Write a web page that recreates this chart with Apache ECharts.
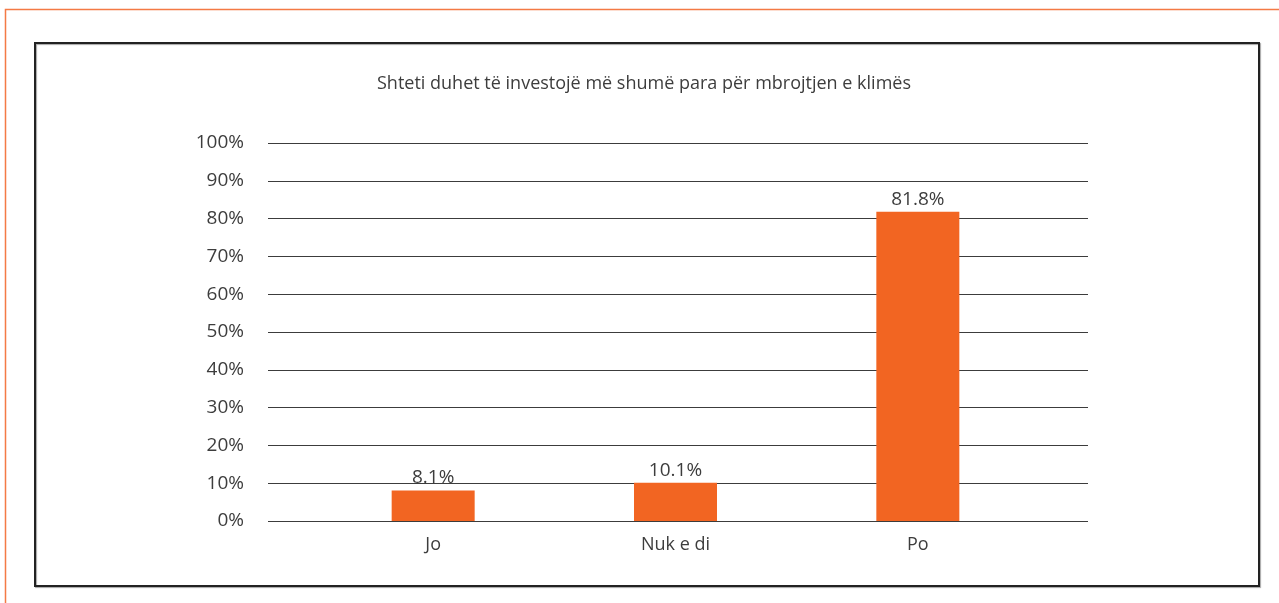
<!DOCTYPE html>
<html>
<head>
<meta charset="utf-8">
<script src="https://cdn.jsdelivr.net/npm/echarts@6/dist/echarts.min.js"></script>
<style>html,body{margin:0;padding:0;background:#fff}#c{width:1279px;height:603px}</style>
</head>
<body>
<div id="c"></div>
<script>
const titleText = 'Shteti duhet të investojë më shumë para për mbrojtjen e klimës';
const categories = ['Jo', 'Nuk e di', 'Po'];
const values = [8.1, 10.1, 81.8];
const yTicks = [0, 10, 20, 30, 40, 50, 60, 70, 80, 90, 100];

const font = '"Open Sans", "Noto Sans", sans-serif';
const textColor = '#3d3d3d';
const chart = echarts.init(document.getElementById('c'), null, {renderer: 'canvas'});
chart.setOption({
  backgroundColor: '#ffffff',
  animation: false,
  title: {
    text: titleText,
    left: 377,
    top: 75,
    padding: 0,
    textStyle: {fontFamily: font, fontSize: 18, fontWeight: 'normal', color: textColor}
  },
  graphic: [
    {type: 'rect', shape: {x: 5.5, y: 9.5, width: 1300, height: 700}, style: {fill: 'none', stroke: '#f47a45', lineWidth: 1.5}, silent: true},
    {type: 'rect', shape: {x: 35, y: 43, width: 1224, height: 543}, style: {fill: 'none', stroke: '#222222', lineWidth: 2, shadowColor: 'rgba(0,0,0,0.35)', shadowBlur: 1, shadowOffsetX: 1, shadowOffsetY: 1}, silent: true}
  ],
  grid: [
    {left: 268, right: 1279 - 1088, top: 143, bottom: 603 - 521},
    {left: 312, right: 1279 - 1039, top: 143, bottom: 603 - 521}
  ],
  xAxis: [
    {type: 'category', gridIndex: 0, data: categories, show: false},
    {type: 'category', gridIndex: 1, data: categories,
     axisLine: {show: false}, axisTick: {show: false},
     axisLabel: {fontFamily: font, fontSize: 18, color: textColor, margin: 15}}
  ],
  yAxis: [
    {type: 'value', gridIndex: 0, min: 0, max: 100, interval: 10,
     axisLine: {show: false}, axisTick: {show: false},
     axisLabel: {fontFamily: font, fontSize: 19, color: textColor, margin: 24, formatter: v => v + '%'},
     splitLine: {lineStyle: {color: '#3c3c3c', width: 1}}},
    {type: 'value', gridIndex: 1, min: 0, max: 100, interval: 10, show: false, splitLine: {show: false}}
  ],
  series: [{
    type: 'bar',
    xAxisIndex: 1, yAxisIndex: 1,
    data: values,
    barWidth: 83,
    itemStyle: {color: '#f26522'},
    label: {show: true, position: 'top', distance: 3, fontFamily: font, fontSize: 19, color: textColor, formatter: p => p.value.toFixed(1) + '%'}
  }]
});
</script>
</body>
</html>
